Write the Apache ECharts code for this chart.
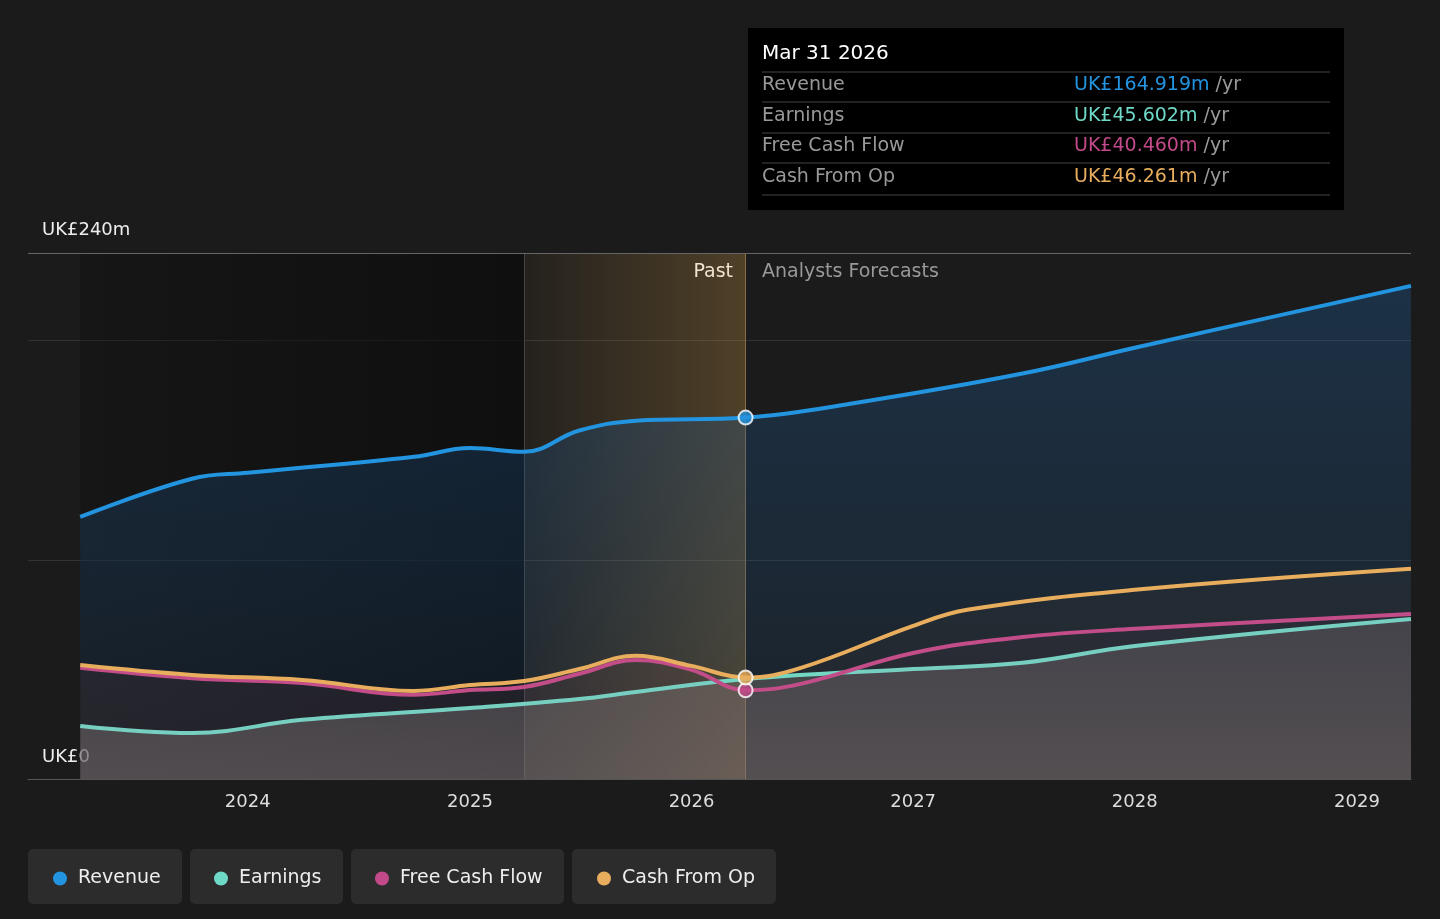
<!DOCTYPE html>
<html>
<head>
<meta charset="utf-8">
<script src="https://cdn.jsdelivr.net/npm/echarts@6/dist/echarts.min.js"></script>
<style>
  html, body { margin: 0; padding: 0; background: #1b1b1b; }
  #main { width: 1440px; height: 919px; }
</style>
</head>
<body>
<div id="main"></div>
<script>
var myChart = echarts.init(document.getElementById('main'));

// values in UK£m
var revenueDates = ['2023-03-31', '2023-10-01', '2024-01-01', '2024-10-01', '2025-01-01', '2025-03-31', '2025-06-30', '2025-10-01', '2026-03-31', '2026-09-30', '2027-06-30', '2028-01-01', '2028-09-30', '2029-03-31'];
var revenueValues = [119.6, 137, 139.7, 147, 151, 149.3, 159, 163.5, 164.9, 171.7, 185, 196.8, 213.7, 225];

var earningsDates = ['2023-03-31', '2023-10-01', '2024-03-31', '2025-01-01', '2025-06-30', '2025-10-01', '2026-03-31', '2027-01-01', '2027-06-30', '2028-01-01', '2029-03-31'];
var earningsValues = [24.2, 21, 27, 32.4, 36.5, 39.7, 45.6, 50.2, 53, 60.7, 73];

var fcfDates = ['2023-03-31', '2023-10-01', '2024-03-31', '2024-09-30', '2025-01-01', '2025-03-31', '2025-06-30', '2025-10-01', '2026-01-01', '2026-03-31', '2026-06-30', '2027-01-01', '2027-06-30', '2028-01-01', '2029-03-31'];
var fcfValues = [50.7, 46, 43.8, 38.4, 40.6, 42, 48, 54.3, 49.8, 40.5, 43.4, 57.5, 64.8, 68.5, 75.3];

var cfoDates = ['2023-03-31', '2023-10-01', '2024-03-31', '2024-09-30', '2025-01-01', '2025-03-31', '2025-06-30', '2025-10-01', '2026-01-01', '2026-03-31', '2026-06-30', '2027-01-01', '2027-03-31', '2028-01-01', '2029-03-31'];
var cfoValues = [52, 47.5, 45.2, 40.2, 42.9, 44.7, 50.2, 56.2, 51.6, 46.3, 50.7, 69.9, 77.2, 86.3, 95.9];

var nowDate = '2026-03-31';
var tipRows = [
    ['Revenue', 'UK£164.919m', '#2394df'],
    ['Earnings', 'UK£45.602m', '#6fd9c8'],
    ['Free Cash Flow', 'UK£40.460m', '#c24a8a'],
    ['Cash From Op', 'UK£46.261m', '#e8ae5d']
];

function zip(d, v) {
    return d.map(function (x, i) { return [x, v[i]]; });
}
function vgrad(a, b) {
    return new echarts.graphic.LinearGradient(0, 0, 0, 1, [{ offset: 0, color: a }, { offset: 1, color: b }]);
}
function lineSeries(name, d, v, color, area, z) {
    return {
        name: name, type: 'line', smooth: 0.4, showSymbol: false, z: z,
        data: zip(d, v),
        lineStyle: { color: color, width: 4 },
        itemStyle: { color: color },
        areaStyle: area
    };
}
function dot(d, v, color) {
    return {
        type: 'scatter', data: [[d, v]], symbolSize: 14, z: 20,
        itemStyle: { color: color, borderColor: '#fff', borderWidth: 2 }
    };
}

var F = '"DejaVu Sans"';
// tooltip box as graphic
var graphics = [
    { type: 'rect', shape: { x: 748, y: 28, width: 596, height: 182 }, style: { fill: '#000' }, z: 50 },
    { type: 'text', x: 762, y: 44, style: { text: 'Mar 31 2026', fill: '#fff', font: '20px ' + F }, z: 51 },
    { type: 'text', x: 42, y: 221, style: { text: 'UK£240m', fill: '#eee', font: '18px ' + F } },
    { type: 'text', x: 42, y: 748, style: { text: 'UK£0', fill: '#eee', font: '18px ' + F } },
    { type: 'text', x: 733, y: 263, style: { text: 'Past', fill: '#fff', font: '19px ' + F, align: 'right' } },
    { type: 'text', x: 762, y: 263, style: { text: 'Analysts Forecasts', fill: '#999', font: '19px ' + F } }
];
var sepY = [72, 102, 133, 163, 195];
sepY.forEach(function (y) {
    graphics.push({ type: 'line', shape: { x1: 762, y1: y, x2: 1330, y2: y }, style: { stroke: '#444', lineWidth: 1 }, z: 51 });
});
tipRows.forEach(function (r, i) {
    var y = 76 + i * 30.5;
    graphics.push({ type: 'text', x: 762, y: y, style: { text: r[0], fill: '#999', font: '19px ' + F }, z: 51 });
    graphics.push({ type: 'text', x: 1074, y: y, style: { rich: { v: { fill: r[2], font: '19px ' + F }, u: { fill: '#999', font: '19px ' + F } }, text: '{v|' + r[1] + '}{u| /yr}' }, z: 51 });
});
// legend pills
var pills = [[28, 154], [190, 153], [351, 213], [572, 204]];
pills.forEach(function (p) {
    graphics.push({ type: 'rect', shape: { x: p[0], y: 849, width: p[1], height: 55, r: 5 }, style: { fill: '#2c2c2c' }, z: 0 });
});

function legendAt(left, name) {
    return {
        left: left, top: 864, data: [name], icon: 'circle', itemWidth: 14, itemHeight: 14, itemGap: 14,
        textStyle: { color: '#eee', fontSize: 19, fontFamily: 'DejaVu Sans', padding: [0, 0, 0, 6] }
    };
}

var option = {
    backgroundColor: '#1b1b1b',
    animation: false,
    grid: { left: 28, right: 29, top: 253, bottom: 140 },
    legend: [
        legendAt(48, 'Revenue'),
        legendAt(209, 'Earnings'),
        legendAt(370, 'Free Cash Flow'),
        legendAt(592, 'Cash From Op')
    ],
    graphic: graphics,
    xAxis: {
        type: 'time',
        min: '2023-01-04', max: '2029-03-31',
        axisLine: { lineStyle: { color: '#555' } },
        axisTick: { show: false },
        splitLine: { show: false },
        axisLabel: {
            color: '#ddd', fontSize: 18, fontFamily: 'DejaVu Sans', margin: 14,
            formatter: function (v) { var d = new Date(v); return (d.getMonth() === 0 && d.getFullYear() > 2023) ? String(d.getFullYear()) : ''; }
        },
        minInterval: 3600 * 24 * 1000 * 365
    },
    yAxis: {
        type: 'value', min: 0, max: 240, interval: 100,
        axisLabel: { show: false },
        axisLine: { show: false }, axisTick: { show: false },
        splitLine: { lineStyle: { color: '#333' } }
    },
    series: [
        {
            type: 'line', data: [], silent: true,
            markArea: {
                silent: true,
                data: [
                    [{ xAxis: '2023-03-31', itemStyle: { color: new echarts.graphic.LinearGradient(0, 0, 1, 0, [{ offset: 0, color: 'rgba(10,10,10,0.3)' }, { offset: 1, color: 'rgba(10,10,10,0.7)' }]) } }, { xAxis: '2025-03-31' }],
                    [{ xAxis: '2025-03-31', itemStyle: { color: new echarts.graphic.LinearGradient(0, 0, 1, 0, [{ offset: 0, color: 'rgba(200,150,70,0.05)' }, { offset: 1, color: 'rgba(200,150,70,0.3)' }]) } }, { xAxis: nowDate }]
                ]
            },
            markLine: {
                silent: true, symbol: 'none', label: { show: false },
                data: [
                    { xAxis: '2025-03-31', lineStyle: { color: '#444', width: 1, type: 'solid' } },
                    { yAxis: 240, lineStyle: { color: '#666', width: 1, type: 'solid' } }
                ]
            }
        },
        lineSeries('Revenue', revenueDates, revenueValues, '#2394df', { color: vgrad('rgba(30,90,150,0.5)', 'rgba(30,90,150,0.15)') }, 5),
        lineSeries('Earnings', earningsDates, earningsValues, '#6fd9c8', { color: vgrad('rgba(120,120,120,0.45)', 'rgba(120,120,120,0.7)') }, 6),
        lineSeries('Free Cash Flow', fcfDates, fcfValues, '#c24a8a', { color: 'rgba(194,74,138,0.07)' }, 7),
        lineSeries('Cash From Op', cfoDates, cfoValues, '#e8ae5d', { color: 'rgba(232,174,93,0.05)' }, 8),
        {
            type: 'line', data: [], silent: true,
            markLine: {
                silent: true, symbol: 'none', label: { show: false },
                data: [{ xAxis: nowDate }],
                lineStyle: { color: '#8a6d45', width: 1, type: 'solid' }
            }
        },
        dot(nowDate, 164.9, '#2394df'),
        dot(nowDate, 40.5, '#c24a8a'),
        dot(nowDate, 46.3, '#e8ae5d')
    ]
};
myChart.setOption(option);
</script>
</body>
</html>
